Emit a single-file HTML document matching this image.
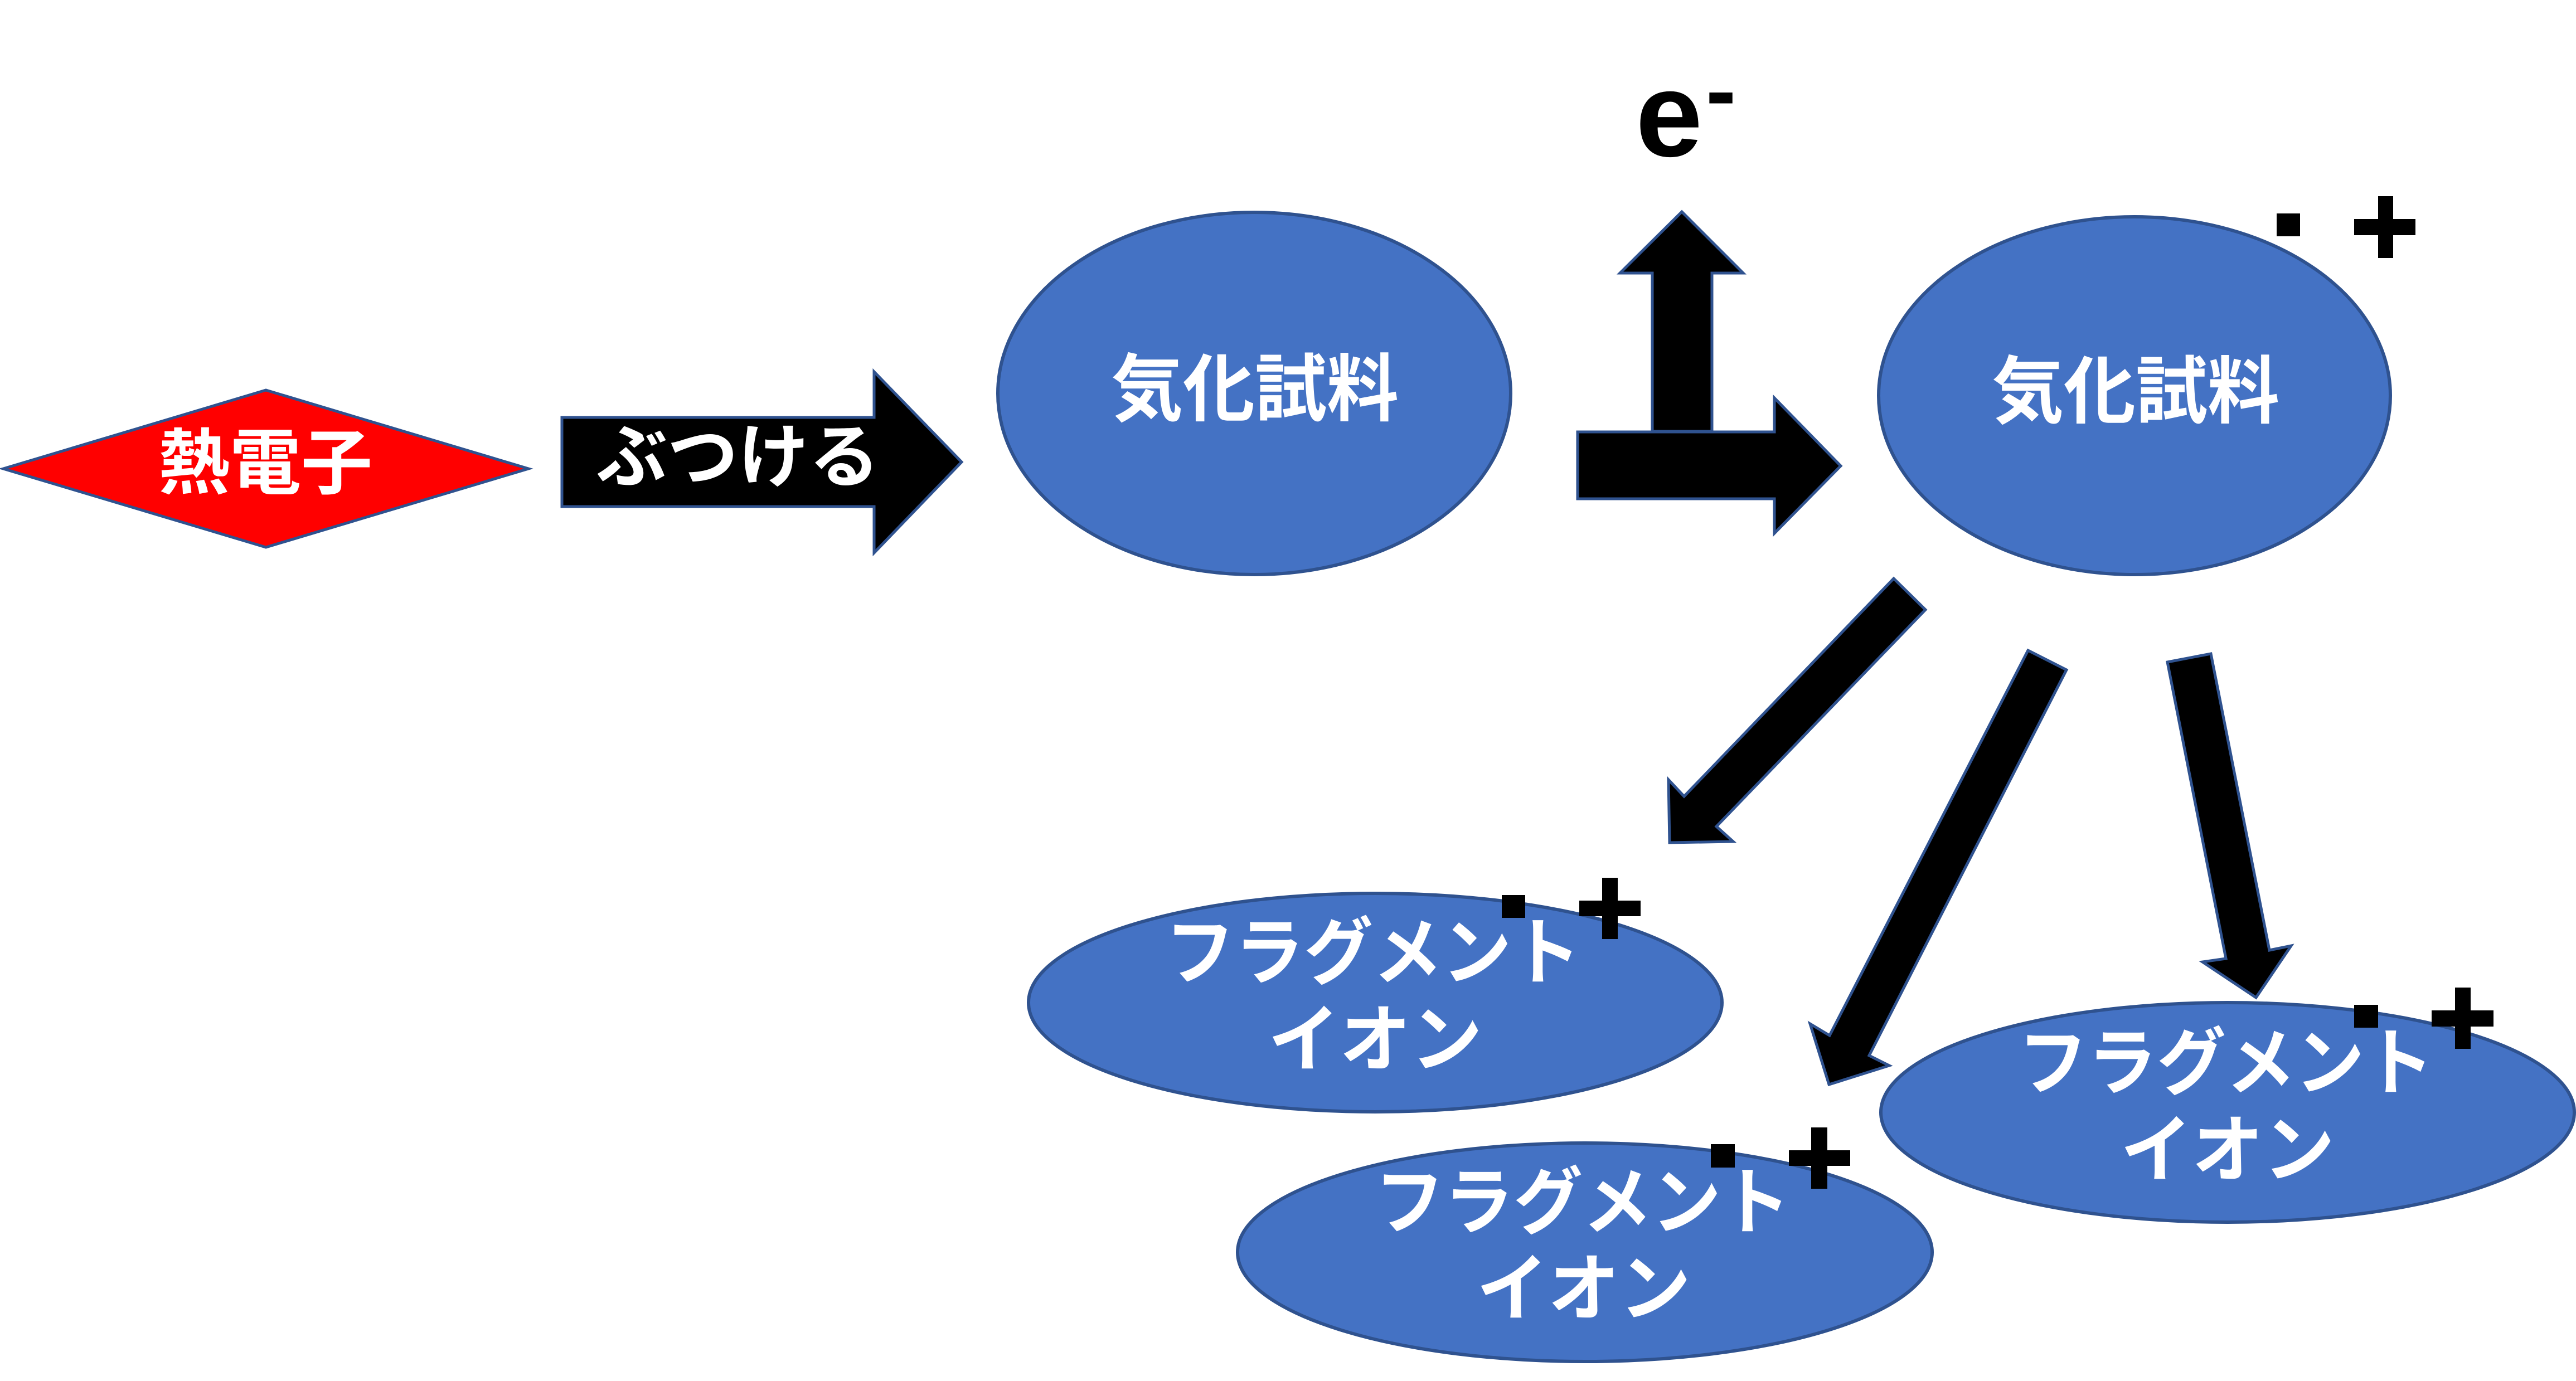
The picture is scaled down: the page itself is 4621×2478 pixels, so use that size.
<!DOCTYPE html>
<html><head><meta charset="utf-8">
<style>
html,body{margin:0;padding:0;background:#fff;}
body{width:4621px;height:2478px;overflow:hidden;}
svg{display:block;}
.jp{font-family:"Liberation Sans","Noto Sans CJK JP",sans-serif;font-weight:bold;fill:#fff;}
</style></head>
<body>
<svg width="4621" height="2478" viewBox="0 0 4621 2478" xmlns="http://www.w3.org/2000/svg">
<rect x="0" y="0" width="4621" height="2478" fill="#fff"/>

<!-- diamond -->
<polygon points="6,841 477,700 948,841 477,982" fill="#FF0000" stroke="#2F528F" stroke-width="5"/>
<text class="jp" x="476" y="832" font-size="128" text-anchor="middle" dominant-baseline="central" textLength="384" lengthAdjust="spacingAndGlyphs">熱電子</text>

<!-- ぶつける arrow -->
<polygon points="1008,749 1568,749 1568,667 1725,829 1568,992 1568,909 1008,909" fill="#000" stroke="#2F528F" stroke-width="5"/>
<text class="jp" x="1324" y="821" font-size="125" text-anchor="middle" dominant-baseline="central" textLength="508" lengthAdjust="spacingAndGlyphs">ぶつける</text>

<!-- ellipse 1 -->
<ellipse cx="2250" cy="706" rx="460" ry="325" fill="#4472C4" stroke="#2F528F" stroke-width="6"/>
<text class="jp" x="2251" y="699" font-size="132" text-anchor="middle" dominant-baseline="central" textLength="516" lengthAdjust="spacingAndGlyphs">気化試料</text>

<!-- up arrow -->
<polygon points="3017,380 3127,490 3071,490 3071,774 2964,774 2964,490 2906,490" fill="#000" stroke="#2F528F" stroke-width="5"/>
<!-- right arrow -->
<polygon points="2830,775 3183,775 3183,714 3302,836 3183,957 3183,895 2830,895" fill="#000" stroke="#2F528F" stroke-width="5"/>

<!-- e- -->
<text x="2934" y="280" font-family="Liberation Sans, sans-serif" font-weight="bold" font-size="216" fill="#000">e</text>
<text x="3060" y="218" font-family="Liberation Sans, sans-serif" font-weight="bold" font-size="163" fill="#000">-</text>

<!-- ellipse 2 -->
<ellipse cx="3829" cy="710" rx="459" ry="321" fill="#4472C4" stroke="#2F528F" stroke-width="6"/>
<text class="jp" x="3831" y="703" font-size="132" text-anchor="middle" dominant-baseline="central" textLength="516" lengthAdjust="spacingAndGlyphs">気化試料</text>
<rect x="4084" y="383" width="42" height="41" fill="#000"/>
<rect x="4266" y="352" width="27" height="111" fill="#000"/>
<rect x="4223" y="393" width="110" height="29" fill="#000"/>

<!-- diagonal arrows -->
<polygon points="3397,1038 3454,1094 3079,1483 3109,1510 2995,1512 2993,1399 3021,1429" fill="#000" stroke="#2F528F" stroke-width="5"/>
<polygon points="3638,1167 3707,1202 3353,1894 3389,1912 3281,1946 3247,1837 3282,1858" fill="#000" stroke="#2F528F" stroke-width="5"/>
<polygon points="3888,1188 3966,1173 4071,1705 4110,1697 4047,1790 3951,1726 3993,1720" fill="#000" stroke="#2F528F" stroke-width="5"/>

<!-- fragment 1 -->
<ellipse cx="2467" cy="1799" rx="622" ry="196" fill="#4472C4" stroke="#2F528F" stroke-width="6"/>
<text class="jp" x="2463" y="1710" font-size="132" text-anchor="middle" dominant-baseline="central" textLength="745" lengthAdjust="spacingAndGlyphs">フラグメント</text>
<text class="jp" x="2467" y="1866" font-size="132" text-anchor="middle" dominant-baseline="central" textLength="384" lengthAdjust="spacingAndGlyphs">イオン</text>
<rect x="2694" y="1606" width="42" height="41" fill="#000"/>
<rect x="2874" y="1575" width="28" height="110" fill="#000"/>
<rect x="2833" y="1616" width="110" height="28" fill="#000"/>

<!-- fragment 3 (right) -->
<ellipse cx="3996" cy="1996" rx="622" ry="197" fill="#4472C4" stroke="#2F528F" stroke-width="6"/>
<text class="jp" x="3993" y="1908" font-size="132" text-anchor="middle" dominant-baseline="central" textLength="745" lengthAdjust="spacingAndGlyphs">フラグメント</text>
<text class="jp" x="3996" y="2064" font-size="132" text-anchor="middle" dominant-baseline="central" textLength="384" lengthAdjust="spacingAndGlyphs">イオン</text>
<rect x="4223" y="1803" width="43" height="41" fill="#000"/>
<rect x="4404" y="1772" width="28" height="110" fill="#000"/>
<rect x="4362" y="1813" width="111" height="29" fill="#000"/>

<!-- fragment 2 (bottom) -->
<ellipse cx="2843" cy="2247" rx="623" ry="196" fill="#4472C4" stroke="#2F528F" stroke-width="6"/>
<text class="jp" x="2839" y="2158" font-size="132" text-anchor="middle" dominant-baseline="central" textLength="745" lengthAdjust="spacingAndGlyphs">フラグメント</text>
<text class="jp" x="2841" y="2313" font-size="132" text-anchor="middle" dominant-baseline="central" textLength="384" lengthAdjust="spacingAndGlyphs">イオン</text>
<rect x="3069" y="2053" width="43" height="42" fill="#000"/>
<rect x="3249" y="2023" width="29" height="110" fill="#000"/>
<rect x="3209" y="2064" width="110" height="28" fill="#000"/>
</svg>
</body></html>
